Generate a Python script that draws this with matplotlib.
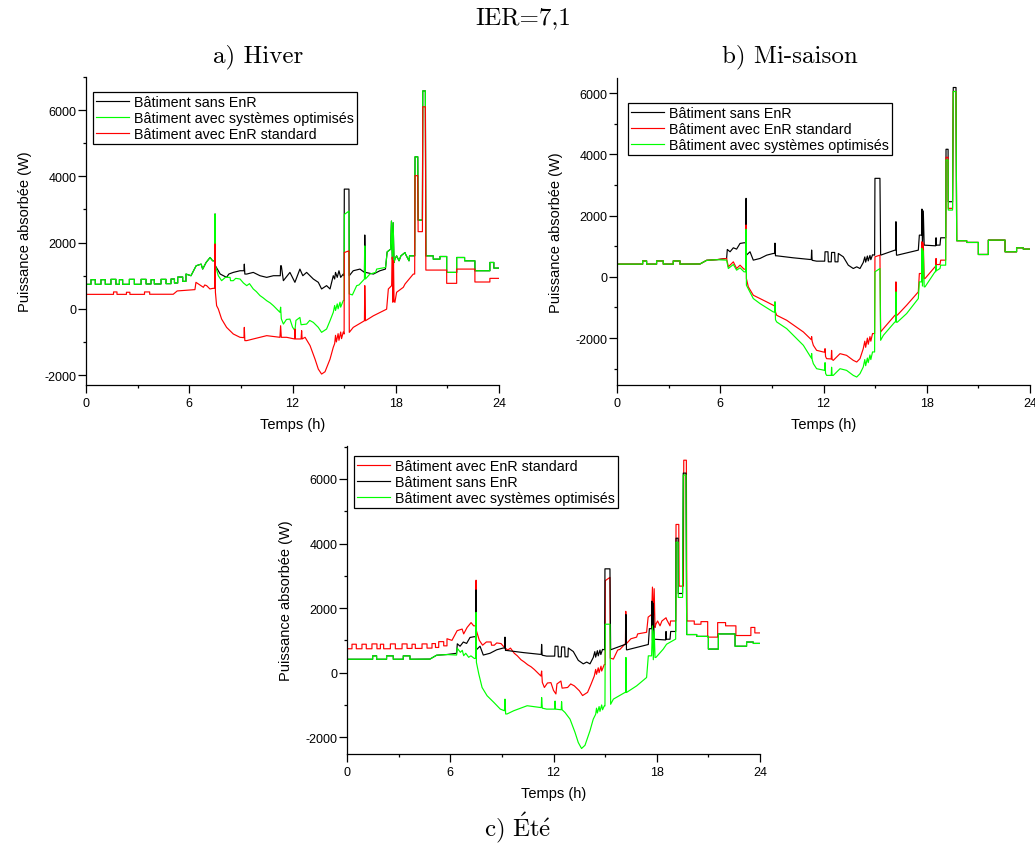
import numpy as np
import matplotlib.pyplot as plt
from matplotlib.ticker import MultipleLocator

plt.rcParams['font.family'] = ['Liberation Sans', 'DejaVu Sans']
plt.rcParams['mathtext.fontset'] = 'cm'
plt.rcParams['axes.unicode_minus'] = False

# Curves: (time in h, absorbed power in W)

# winter "optimised" curve (same trace as the summer "EnR standard" one)
opt = np.array([
    (0, 740), (0.29, 740), (0.29, 880), (0.54, 880), (0.54, 740), (0.87, 740), (0.87, 880),
    (1.12, 880), (1.12, 740), (1.45, 740), (1.45, 890), (1.74, 890), (1.74, 740), (1.94, 740),
    (1.94, 880), (2.13, 880), (2.13, 740), (2.52, 740), (2.52, 890), (2.81, 890), (2.81, 740),
    (3.2, 740), (3.2, 890), (3.49, 890), (3.49, 750), (3.78, 750), (3.78, 880), (3.97, 880),
    (3.97, 750), (4.36, 750), (4.36, 890), (4.65, 890), (4.65, 760), (4.94, 760), (4.94, 900),
    (5.14, 900), (5.14, 780), (5.33, 780), (5.33, 960), (5.62, 960), (5.62, 830), (5.81, 830),
    (5.81, 1050), (6.1, 1000), (6.4, 1300), (6.69, 1350), (6.78, 1200), (6.98, 1400),
    (7.21, 1550), (7.36, 1450), (7.48, 1450), (7.49, 2860), (7.51, 2860), (7.52, 1300),
    (7.69, 1000), (7.88, 850), (8.1, 950), (8.37, 950), (8.4, 850), (8.56, 850), (8.7, 920),
    (8.95, 900), (9.15, 780), (9.34, 700), (9.5, 760), (9.72, 600), (9.9, 520), (10.11, 400),
    (10.3, 330), (10.5, 245), (10.7, 180), (10.89, 95), (11.27, -105), (11.31, 50),
    (11.35, -300), (11.47, -460), (11.65, -320), (11.85, -310), (12.0, -550), (12.14, -660),
    (12.2, -350), (12.43, -260), (12.5, -480), (12.82, -460), (13.0, -350), (13.21, -410),
    (13.5, -560), (13.69, -710), (13.98, -610), (14.18, -360), (14.37, -105), (14.45, 100),
    (14.5, -50), (14.6, 150), (14.65, 0), (14.76, 200), (14.8, 50), (14.95, 250), (15.0, 250),
    (15.01, 2850), (15.28, 2950), (15.3, 450), (15.48, 420), (15.73, 700), (15.86, 720),
    (16.18, 900), (16.2, 1900), (16.24, 900), (16.5, 1050), (16.83, 1100), (16.89, 1200),
    (17.41, 1250), (17.5, 1720), (17.7, 1800), (17.75, 2650), (17.8, 1500), (17.85, 2600),
    (17.9, 1400), (17.95, 1500), (18.05, 1600), (18.19, 1450), (18.3, 1600), (18.54, 1700),
    (18.57, 1650), (18.77, 1450), (18.8, 1600), (19.1, 1600), (19.12, 4590), (19.28, 4590),
    (19.3, 2680), (19.55, 2680), (19.57, 6580), (19.72, 6580), (19.75, 1600), (20.18, 1600),
    (20.18, 1500), (20.57, 1500), (20.57, 1580), (20.96, 1580), (20.96, 1100), (21.54, 1100),
    (21.54, 1550), (22.0, 1550), (22.0, 1450), (22.6, 1450), (22.6, 1150), (23.47, 1150),
    (23.47, 1400), (23.7, 1400), (23.7, 1230), (24, 1230),
])

# winter, building with standard EnR
a_std = np.array([
    (0, 437), (1.6, 437), (1.6, 510), (1.8, 510), (1.8, 437), (2.35, 437), (2.35, 500),
    (2.55, 500), (2.55, 437), (3.4, 437), (3.4, 510), (3.7, 510), (3.7, 440), (5.07, 440),
    (5.3, 540), (6.33, 580), (6.39, 800), (6.62, 720), (6.82, 650), (6.9, 720), (7.01, 700),
    (7.2, 600), (7.4, 620), (7.48, 620), (7.49, 1956), (7.51, 1956), (7.52, 500), (7.59, 95),
    (7.69, -6), (7.88, -308), (8.17, -560), (8.56, -760), (8.95, -860), (9.18, -870),
    (9.2, -560), (9.23, -960), (9.34, -960), (9.72, -910), (10.5, -810), (11.27, -860),
    (11.31, -510), (11.35, -860), (11.66, -860), (12.12, -910), (12.14, -610), (12.17, -910),
    (12.5, -910), (12.53, -660), (12.56, -910), (12.73, -860), (13.02, -1110), (13.31, -1520),
    (13.5, -1820), (13.69, -1970), (13.89, -1900), (14.18, -1520), (14.37, -1160),
    (14.45, -1050), (14.5, -800), (14.55, -1000), (14.65, -750), (14.7, -950), (14.8, -700),
    (14.85, -900), (14.95, -700), (15.0, -760), (15.01, 1700), (15.28, 1750), (15.3, -710),
    (15.53, -560), (16.18, -360), (16.2, 700), (16.24, -360), (16.7, -210), (17.47, -10),
    (17.57, 600), (17.76, 700), (17.8, 1560), (17.83, 200), (17.87, 1450), (17.9, 250),
    (17.95, 195), (18.05, 500), (18.44, 650), (18.54, 750), (19.02, 1050), (19.1, 1050),
    (19.12, 4020), (19.28, 4020), (19.3, 2330), (19.55, 2330), (19.57, 6100), (19.72, 6100),
    (19.75, 1170), (20.96, 1170), (20.96, 770), (21.54, 770), (21.54, 1200), (22.6, 1200),
    (22.6, 810), (23.47, 810), (23.47, 920), (24, 920),
])

# winter, building without EnR (only the part that differs from the optimised curve)
a_sans_mid = np.array([
    (7.52, 1300), (7.8, 1050), (8.17, 950), (8.3, 1050), (8.56, 1100), (8.95, 1150),
    (9.18, 1150), (9.2, 1350), (9.23, 1050), (9.34, 1050), (9.72, 1100), (10.11, 1000),
    (10.5, 950), (10.89, 1000), (11.29, 1000), (11.31, 1300), (11.35, 1300), (11.47, 850),
    (11.85, 1100), (12.14, 800), (12.43, 1200), (12.6, 1000), (12.82, 1100), (13.21, 900),
    (13.5, 800), (13.69, 600), (13.98, 700), (14.18, 600), (14.37, 1000), (14.45, 900),
    (14.5, 1100), (14.6, 950), (14.7, 1150), (14.8, 950), (14.95, 1050), (15.0, 1000),
    (15.01, 3615), (15.28, 3615), (15.3, 1000), (15.53, 1150), (15.92, 1200), (16.18, 1100),
    (16.2, 2230), (16.24, 1100), (16.7, 1050), (17.08, 1150), (17.4, 1200),
])

# mid-season / summer building without EnR (same trace in b and c)
sans = np.array([
    (0, 415), (1.49, 415), (1.49, 520), (1.72, 520), (1.72, 415), (2.3, 415), (2.3, 520),
    (2.69, 520), (2.69, 415), (3.27, 415), (3.27, 520), (3.66, 520), (3.66, 415), (4.82, 420),
    (5.21, 540), (5.79, 560), (6.37, 600), (6.41, 894), (6.57, 818), (6.76, 948), (6.95, 905),
    (7.15, 1090), (7.38, 1112), (7.48, 1112), (7.49, 2560), (7.51, 2560), (7.52, 708),
    (7.73, 818), (7.92, 545), (8.31, 600), (8.7, 708), (9.08, 763), (9.16, 763), (9.18, 1100),
    (9.21, 687), (9.28, 687), (10.25, 621), (11.21, 567), (11.29, 567), (11.31, 875),
    (11.34, 540), (11.6, 512), (12.07, 512), (12.09, 818), (12.26, 818), (12.28, 490),
    (12.45, 490), (12.47, 796), (12.65, 796), (12.67, 490), (12.84, 490), (12.86, 763),
    (13.15, 654), (13.44, 381), (13.73, 272), (13.93, 327), (14.12, 272), (14.31, 469),
    (14.4, 650), (14.45, 480), (14.55, 680), (14.6, 520), (14.7, 700), (14.75, 560),
    (14.85, 720), (14.97, 708), (14.99, 3215), (15.28, 3215), (15.32, 708), (16.15, 872),
    (16.19, 872), (16.21, 1800), (16.24, 708), (16.29, 708), (17.51, 872), (17.57, 1362),
    (17.7, 1362), (17.72, 2213), (17.75, 1000), (17.8, 2150), (17.85, 1035), (18.48, 1014),
    (18.52, 1014), (18.54, 1275), (18.56, 1035), (18.77, 1035), (18.81, 1275), (19.1, 1275),
    (19.12, 4164), (19.24, 4164), (19.25, 2452), (19.5, 2452), (19.54, 6180), (19.7, 6180),
    (19.74, 1180), (20.32, 1180), (20.32, 1123), (21.0, 1123), (21.0, 730), (21.58, 730),
    (21.58, 1199), (22.55, 1199), (22.55, 818), (23.22, 818), (23.22, 948), (23.61, 948),
    (23.61, 905), (24, 905),
])

# mid-season, daytime part of the standard EnR curve
b_std_mid = np.array([
    (6.37, 600), (6.47, 327), (6.76, 490), (6.95, 272), (7.15, 381), (7.38, 250), (7.48, 250),
    (7.49, 1690), (7.51, 1690), (7.52, -55), (7.63, -327), (7.92, -600), (8.31, -709),
    (8.7, -818), (9.08, -927), (9.16, -950), (9.18, -818), (9.21, -1150), (9.28, -1254),
    (9.86, -1417), (10.83, -1799), (11.29, -2050), (11.31, -1950), (11.34, -2100),
    (11.41, -2235), (11.6, -2398), (11.99, -2453), (12.07, -2453), (12.09, -2344),
    (12.12, -2600), (12.18, -2670), (12.45, -2680), (12.47, -2400), (12.5, -2700),
    (12.57, -2725), (12.96, -2507), (13.34, -2562), (13.73, -2725), (13.93, -2780),
    (14.12, -2670), (14.31, -2344), (14.4, -2100), (14.45, -2300), (14.55, -2000),
    (14.6, -2200), (14.7, -1950), (14.75, -2100), (14.85, -1850), (14.97, -1853), (14.99, 654),
    (15.28, 708), (15.32, -1799), (15.48, -1690), (16.15, -1254), (16.19, -1254),
    (16.21, -164), (16.24, -1254), (16.29, -1250), (16.83, -927), (17.51, -491), (17.57, 109),
    (17.7, 109), (17.72, 1145), (17.75, -100), (17.8, 1100), (17.85, -55), (17.9, -55),
    (18.48, 327), (18.52, 327), (18.54, 600), (18.56, 400), (18.77, 403), (18.81, 545),
    (19.1, 545), (19.12, 3902), (19.24, 3902), (19.25, 2235), (19.5, 2235), (19.54, 6050),
    (19.7, 6050),
])

# mid-season, daytime part of the optimised curve
b_opt_mid = np.array([
    (6.37, 545), (6.47, 272), (6.76, 403), (6.95, 218), (7.15, 294), (7.38, 164), (7.48, 164),
    (7.49, 1548), (7.51, 1548), (7.52, -273), (7.92, -709), (8.31, -872), (9.08, -1145),
    (9.16, -1150), (9.18, -818), (9.21, -1400), (9.28, -1472), (9.86, -1690), (10.83, -2235),
    (11.29, -2650), (11.31, -2500), (11.34, -2700), (11.41, -2834), (11.6, -2998),
    (12.07, -3052), (12.09, -2800), (12.12, -3150), (12.18, -3216), (12.45, -3216),
    (12.47, -2950), (12.5, -3216), (12.57, -3216), (12.96, -2998), (13.34, -3052),
    (13.73, -3216), (13.93, -3270), (14.12, -3161), (14.31, -2943), (14.4, -2700),
    (14.45, -2900), (14.55, -2650), (14.6, -2800), (14.7, -2550), (14.75, -2700),
    (14.85, -2450), (14.97, -2453), (14.99, 164), (15.28, 272), (15.32, -2071), (15.48, -1908),
    (16.15, -1472), (16.19, -1472), (16.21, -491), (16.24, -1480), (16.29, -1480),
    (16.83, -1199), (17.51, -709), (17.57, -164), (17.7, -164), (17.72, 927), (17.75, -300),
    (17.8, 850), (17.85, -327), (17.9, -327), (18.48, 164), (18.52, 164), (18.54, 381),
    (18.56, 200), (18.77, 272), (18.81, 381), (19.1, 381), (19.12, 3815), (19.24, 3815),
    (19.25, 2180), (19.5, 2180), (19.54, 6050), (19.7, 6050),
])

# summer, daytime part of the optimised curve
c_opt_mid = np.array([
    (6.37, 545), (6.4, 760), (6.59, 630), (6.7, 690), (6.78, 525), (6.9, 600), (7.07, 475),
    (7.2, 520), (7.4, 440), (7.48, 440), (7.49, 1865), (7.51, 1865), (7.52, 320), (7.66, -45),
    (7.85, -460), (8.14, -715), (8.53, -920), (8.91, -1130), (9.15, -1180), (9.18, -820),
    (9.22, -1280), (9.3, -1280), (9.69, -1180), (10.47, -1025), (11.24, -1080), (11.29, -1080),
    (11.31, -770), (11.35, -1100), (11.6, -1130), (12.07, -1130), (12.09, -880),
    (12.12, -1130), (12.45, -1150), (12.47, -900), (12.5, -1150), (12.67, -1235),
    (12.96, -1440), (13.25, -1850), (13.44, -2165), (13.63, -2350), (13.83, -2250),
    (14.12, -1800), (14.31, -1440), (14.45, -1290), (14.5, -1100), (14.55, -1250),
    (14.65, -1050), (14.7, -1200), (14.8, -1000), (14.85, -1150), (14.95, -1030),
    (14.99, -1030), (15.01, 1500), (15.28, 1500), (15.32, -980), (15.48, -820), (16.15, -615),
    (16.19, -615), (16.21, 470), (16.24, -615), (16.83, -410), (17.41, -150), (17.51, 520),
    (17.7, 520), (17.75, 1450), (17.8, 400), (17.85, 1300), (17.9, 470), (17.95, 470),
    (18.38, 730), (18.57, 880), (19.1, 1040), (19.12, 4040), (19.24, 4040), (19.25, 2330),
    (19.5, 2330), (19.54, 6120), (19.7, 6120),
])

lab_sans = 'Bâtiment sans EnR'
lab_std = 'Bâtiment avec EnR standard'
lab_opt = 'Bâtiment avec systèmes optimisés'

# full series: parts hidden under another curve are taken from that curve
a_sans = np.vstack([opt[opt[:, 0] <= 7.51], a_sans_mid, opt[opt[:, 0] >= 17.5]])
b_std = np.vstack([sans[sans[:, 0] < 6.37], b_std_mid, sans[sans[:, 0] >= 19.74]])
b_opt = np.vstack([sans[sans[:, 0] < 6.37], b_opt_mid, sans[sans[:, 0] >= 19.74]])
c_opt = np.vstack([sans[sans[:, 0] < 6.37], c_opt_mid, sans[sans[:, 0] >= 19.74]])

BLACK, RED, GREEN = '#000000', '#ff0000', '#00ff00'

fig = plt.figure(figsize=(10.35, 8.45), dpi=100)

W, H = 1035, 845
def px_axes(left, top, right, bottom):
    return fig.add_axes([left / W, 1 - bottom / H, (right - left) / W, (bottom - top) / H])

ax_a = px_axes(86, 78, 499, 386)
ax_b = px_axes(617, 79, 1030, 386)
ax_c = px_axes(347, 447, 760, 755)

panels = [
    (ax_a, [(a_sans, BLACK, lab_sans), (opt, GREEN, lab_opt), (a_std, RED, lab_std)],
     (-2300, 7000), (0.017, 0.951)),
    (ax_b, [(sans, BLACK, lab_sans), (b_std, RED, lab_std), (b_opt, GREEN, lab_opt)],
     (-3530, 6490), (0.027, 0.919)),
    (ax_c, [(opt, RED, lab_std), (sans, BLACK, lab_sans), (c_opt, GREEN, lab_opt)],
     (-2520, 7020), (0.017, 0.968)),
]

for ax, series, ylim, leg_pos in panels:
    for data, col, lab in series:
        ax.plot(data[:, 0], data[:, 1], color=col, lw=0.85, label=lab)
    ax.set_xlim(0, 24)
    ax.set_ylim(*ylim)
    ax.xaxis.set_major_locator(MultipleLocator(6))
    ax.xaxis.set_minor_locator(MultipleLocator(3))
    ax.yaxis.set_major_locator(MultipleLocator(2000))
    ax.yaxis.set_minor_locator(MultipleLocator(1000))
    ax.spines['top'].set_visible(False)
    ax.spines['right'].set_visible(False)
    for s in ('left', 'bottom'):
        ax.spines[s].set_linewidth(0.9)
    ax.tick_params(which='major', direction='out', length=5.5, width=0.9, labelsize=9)
    ax.tick_params(which='minor', direction='out', length=2.5, width=0.9)
    ax.tick_params(axis='y', pad=1.5)
    ax.tick_params(axis='x', pad=3)
    ax.set_xlabel('Temps (h)', fontsize=10.5, labelpad=6)
    ax.set_ylabel('Puissance absorbée (W)', fontsize=10.5, labelpad=9)
    leg = ax.legend(loc='upper left', bbox_to_anchor=leg_pos, borderaxespad=0,
                    fontsize=10.3, frameon=True, fancybox=False, framealpha=1,
                    edgecolor='black', handlelength=2.3, handletextpad=0.35,
                    labelspacing=0.15, borderpad=0.2)
    leg.get_frame().set_linewidth(0.9)

fig.text(523 / W, 1 - 18 / H, 'IER=7,1', ha='center', va='center', family='cmr10', size=18)
fig.text(258 / W, 1 - 57 / H, 'a) Hiver', ha='center', va='center', family='cmr10', size=18)
fig.text(790 / W, 1 - 57 / H, 'b) Mi-saison', ha='center', va='center', family='cmr10', size=18)
fig.text(518 / W, 1 - 828 / H, r'$\mathrm{c)\ \acute{E}t\acute{e}}$', ha='center',
         va='center', size=18)

fig.savefig('out.png', dpi=100)
